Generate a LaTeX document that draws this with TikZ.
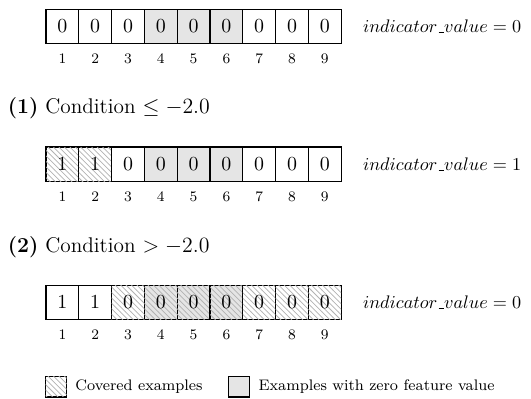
\documentclass[tikz,border=0pt]{standalone}
\usetikzlibrary{patterns}
\newcommand{\ulbar}{\kern.06em\vbox{\hrule width.3em}}
\begin{document}
\begin{tikzpicture}[x=0.55pt,y=0.55pt,
  cell/.style={draw,line width=0.6pt,minimum width=18.04pt,minimum height=18.9pt,inner sep=0pt,font=\fontsize{11}{13}\selectfont},
  zero/.style={fill=gray!20},
  covered/.style={postaction={pattern=north west lines,pattern color=gray!60}},
  zerocov/.style={zero,covered},
  idx/.style={font=\footnotesize},
  head/.style={anchor=west,inner sep=0pt,font=\fontsize{11.7}{14}\selectfont},
  result/.style={anchor=west,inner sep=0pt,font=\fontsize{10.1}{12}\selectfont},
  legbox/.style={draw,line width=0.6pt,minimum width=11.5pt,minimum height=11.5pt,inner sep=0pt},
  legtext/.style={anchor=west,font=\fontsize{8.4}{10}\selectfont}]
\useasboundingbox (0,0) rectangle (531,-399);
% initial state
\foreach \i/\v/\s in {1/0/,2/0/,3/0/,4/0/zero,5/0/zero,6/0/zero,7/0/,8/0/,9/0/}
 \node[cell,\s] (a\i) at ({62.4+(\i-1)*32.8},-26.3) {$\v$};
\foreach \i in {1,...,9}
 \node[idx] (na\i) at ([yshift=-8pt]a\i.south) {$\i$};
\node[result] (ra) at ([xshift=11.5pt]a9.east) {$indicator\ulbar value = 0$};
% condition (1)
\node[head] (h1) at (7.4,-108.3) {\textbf{(1)} Condition $\leq -2.0$};
\foreach \i/\v/\s in {1/1/covered,2/1/covered,3/0/,4/0/zero,5/0/zero,6/0/zero,7/0/,8/0/,9/0/}
 \node[cell,\s] (b\i) at ({62.4+(\i-1)*32.8},-164.2) {$\v$};
\foreach \i in {1,...,9}
 \node[idx] (nb\i) at ([yshift=-8pt]b\i.south) {$\i$};
\node[result] (rb) at ([xshift=11.5pt]b9.east) {$indicator\ulbar value = 1$};
% condition (2)
\node[head] (h2) at (7.4,-246.7) {\textbf{(2)} Condition $> -2.0$};
\foreach \i/\v/\s in {1/1/,2/1/,3/0/covered,4/0/zerocov,5/0/zerocov,6/0/zerocov,7/0/covered,8/0/covered,9/0/covered}
 \node[cell,\s] (c\i) at ({62.4+(\i-1)*32.8},-302.5) {$\v$};
\foreach \i in {1,...,9}
 \node[idx] (nc\i) at ([yshift=-8pt]c\i.south) {$\i$};
\node[result] (rc) at ([xshift=11.5pt]c9.east) {$indicator\ulbar value = 0$};
% legend
\node[legbox,covered] (l1) at (56.2,-386.5) {};
\node[legtext] (t1) at ([xshift=1pt]l1.east) {Covered examples};
\node[legbox,zero] (l2) at (239.3,-386.5) {};
\node[legtext] (t2) at ([xshift=1pt]l2.east) {Examples with zero feature value};
\end{tikzpicture}
\end{document}
